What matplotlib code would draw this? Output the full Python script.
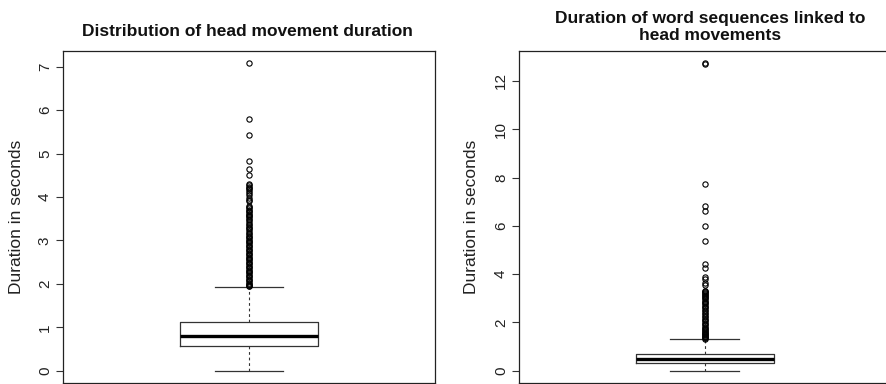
import matplotlib
matplotlib.use("Agg")
import matplotlib.pyplot as plt

plt.rcParams["font.family"] = ["Liberation Sans", "DejaVu Sans"]

# left panel: head movement duration (seconds)
head_stats = dict(whislo=0.0, q1=0.56, med=0.80, q3=1.13, whishi=1.93)
head_outliers = [
    7.08, 5.80, 5.44, 4.84, 4.65, 4.50, 4.30, 4.27, 4.24, 4.21, 4.18, 4.14,
    4.10, 4.05, 3.98, 3.94, 3.90, 3.80, 3.77, 3.74, 3.71, 3.68, 3.65, 3.62,
    3.59, 3.56, 3.53, 3.50, 3.46, 3.42, 3.38, 3.35, 3.32, 3.29, 3.26, 3.22,
    3.18, 3.14, 3.11, 3.08, 3.05, 3.02, 2.99, 2.96, 2.93, 2.90, 2.87, 2.84,
    2.81, 2.78, 2.75, 2.72, 2.69, 2.66, 2.63, 2.60, 2.57, 2.54, 2.51, 2.48,
    2.45, 2.42, 2.39, 2.36, 2.33, 2.30, 2.27, 2.24, 2.21, 2.18, 2.15, 2.12,
    2.09, 2.06, 2.03, 2.00, 1.98, 1.96, 1.94,
]
head_ticks = [0, 1, 2, 3, 4, 5, 6, 7]

# right panel: word sequences linked to head movements (seconds)
words_stats = dict(whislo=0.0, q1=0.30, med=0.48, q3=0.70, whishi=1.30)
words_outliers = [
    12.73, 12.70, 7.75, 6.80, 6.63, 6.00, 5.37, 4.42, 4.25, 3.90, 3.78, 3.62,
    3.55, 3.32, 3.28, 3.24, 3.20, 3.16, 3.12, 3.08, 3.04, 3.00, 2.95, 2.90,
    2.85, 2.80, 2.75, 2.70, 2.64, 2.58, 2.52, 2.46, 2.40, 2.34, 2.28, 2.22,
    2.16, 2.10, 2.04, 1.98, 1.93, 1.88, 1.83, 1.78, 1.74, 1.70, 1.66, 1.62,
    1.58, 1.54, 1.50, 1.47, 1.44, 1.41, 1.38, 1.35, 1.32,
]
words_ticks = [0, 2, 4, 6, 8, 10, 12]

fig = plt.figure(figsize=(8.86, 3.84), dpi=100)
W, H = 886, 384


def panel(rect, stats, outliers, ticks):
    ax = fig.add_axes(rect)
    s = dict(stats)
    s["fliers"] = outliers
    ax.bxp([s], positions=[1], widths=0.4, showfliers=True,
           boxprops=dict(color="#333333", lw=0.9),
           medianprops=dict(color="black", lw=2.4, solid_capstyle="butt"),
           whiskerprops=dict(color="#333333", lw=0.8, ls=(0, (2.5, 2.5))),
           capprops=dict(color="#333333", lw=0.9), capwidths=0.2,
           flierprops=dict(marker="o", markersize=3.8, markerfacecolor="none",
                           markeredgecolor="black", markeredgewidth=0.8))
    lo = min(s["whislo"], min(outliers))
    hi = max(s["whishi"], max(outliers))
    pad = 0.04 * (hi - lo)
    ax.set_ylim(lo - pad, hi + pad)
    ax.set_xlim(0.46, 1.54)
    ax.set_xticks([])
    ax.set_yticks(ticks)
    ax.set_yticklabels([str(t) for t in ticks], rotation=90, va="center",
                       fontsize=11, color="#222222")
    ax.tick_params(axis="y", length=5, width=0.8, pad=3, color="#333333")
    for sp in ax.spines.values():
        sp.set_linewidth(0.9)
        sp.set_color("#222222")
    ax.set_ylabel("Duration in seconds", fontsize=12.5, color="#222222")
    return ax


ax1 = panel([63 / W, 1 / H, 372 / W, 332 / H], head_stats, head_outliers, head_ticks)
ax1.yaxis.set_label_coords((24 - 63) / 372, 0.5)
ax2 = panel([519 / W, 1 / H, 371.5 / W, 332 / H], words_stats, words_outliers, words_ticks)
ax2.yaxis.set_label_coords((479 - 519) / 371.5, 0.5)

fig.text(247 / W, 1 - 32 / H, "Distribution of head movement duration",
         ha="center", va="center", fontsize=12.5, fontweight="bold", color="#111111")
fig.text(710 / W, 1 - 27 / H, "Duration of word sequences linked to\nhead movements",
         ha="center", va="center", fontsize=12.5, fontweight="bold",
         color="#111111", linespacing=1.15)

fig.savefig("out.png", dpi=100)
